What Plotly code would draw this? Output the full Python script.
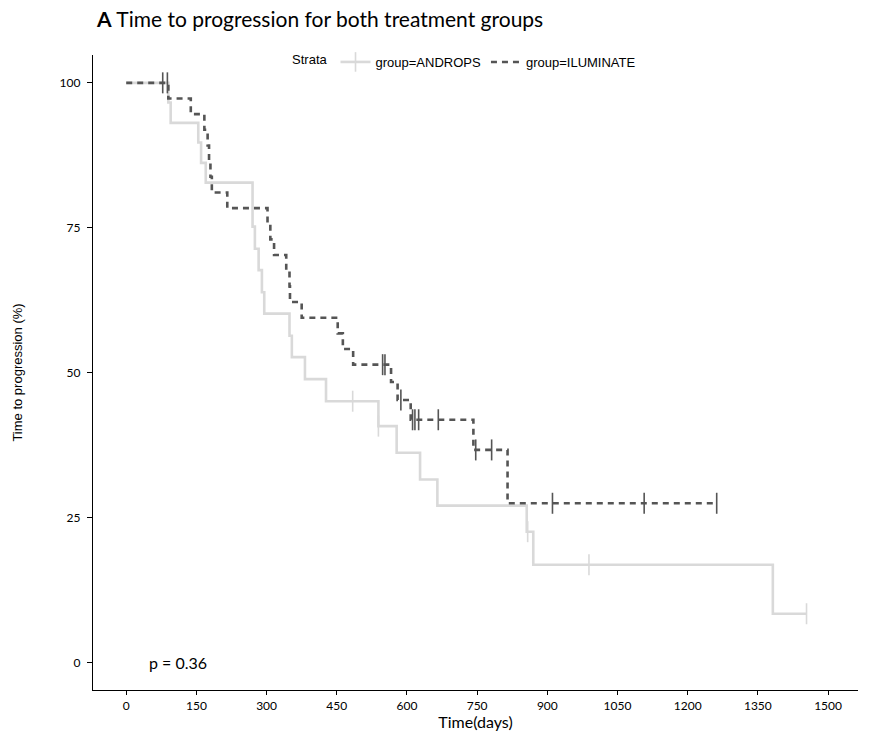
import plotly.graph_objects as go

# ---- data (Kaplan-Meier estimates, %) ----
androps_event_days = [90, 95, 154, 160, 170, 270, 275, 283, 290, 295, 349, 354,
                      382, 427, 539, 578, 628, 665, 856, 870, 1382]
androps_event_surv = [96.6, 93.1, 89.7, 86.2, 82.8, 75.2, 71.4, 67.7, 63.9, 60.2, 56.4, 52.7,
                      48.9, 45.1, 40.8, 36.2, 31.6, 27.1, 22.6, 16.9, 8.45]
androps_censor_days = [484, 539, 858, 989, 1454]

iluminate_event_days = [90, 138, 167, 174, 177, 180, 183, 216, 302, 308, 316, 342,
                        349, 350, 375, 452, 463, 485, 566, 580, 608, 742, 815]
iluminate_event_surv = [97.3, 94.6, 91.9, 89.2, 86.5, 83.8, 81.1, 78.4, 75.7, 73.0, 70.3, 67.6,
                        64.9, 62.2, 59.5, 56.8, 54.1, 51.4, 48.4, 45.3, 41.9, 36.7, 27.5]
iluminate_censor_days = [78, 88, 548, 553, 587, 612, 617, 625, 667, 747, 781, 911, 1107, 1262]

x_ticks = [0, 150, 300, 450, 600, 750, 900, 1050, 1200, 1350, 1500]
y_ticks = [0, 25, 50, 75, 100]
p_value_text = "p = 0.36"
title_bold = "A"
title_rest = " Time to progression for both treatment groups"

ANDROPS_COLOR = "#d9d9d9"
ILUMINATE_COLOR = "#555555"


def surv_at(t, days, surv):
    s = 100.0
    for d, v in zip(days, surv):
        if d <= t:
            s = v
    return s


def step_xy(days, surv, censor):
    end = max(censor + days)
    xs = [0] + list(days) + [end]
    ys = [100] + list(surv) + [surv_at(end, days, surv)]
    return xs, ys


fig = go.Figure()

groups = [
    ("group=ANDROPS", androps_event_days, androps_event_surv, androps_censor_days,
     ANDROPS_COLOR, "solid", True),
    ("group=ILUMINATE", iluminate_event_days, iluminate_event_surv, iluminate_censor_days,
     ILUMINATE_COLOR, "6px,5px", False),
]

for name, days, surv, cens, color, dash, legend_marker in groups:
    xs, ys = step_xy(days, surv, cens)
    fig.add_trace(go.Scatter(
        x=xs, y=ys, mode="lines", name=name, legendgroup=name,
        line=dict(color=color, width=2.6, dash=dash, shape="hv"),
        showlegend=False,
    ))
    fig.add_trace(go.Scatter(
        x=cens, y=[surv_at(c, days, surv) for c in cens], mode="markers",
        legendgroup=name, showlegend=False, name=name,
        marker=dict(symbol="line-ns", size=15, line=dict(color=color, width=1.6)),
    ))
    # legend entry
    fig.add_trace(go.Scatter(
        x=[None], y=[None], mode="lines+markers" if legend_marker else "lines",
        name=name, legendgroup=name, showlegend=True,
        line=dict(color=color, width=2.6, dash=dash),
        marker=dict(symbol="line-ns", size=14, line=dict(color=color, width=1.6)),
    ))

fig.add_annotation(x=45, y=0, xref="x", yref="y", text=p_value_text, showarrow=False,
                   xanchor="left", yanchor="middle",
                   font=dict(family="Lato", size=16, color="black"))

fig.update_layout(
    width=885, height=739,
    paper_bgcolor="white", plot_bgcolor="white",
    margin=dict(l=93, r=27, t=55, b=49),
    title=dict(text=f"<b>{title_bold}</b>{title_rest}", x=97 / 885, xanchor="left",
               xref="container", y=1 - 20 / 739, yref="container", yanchor="middle",
               font=dict(family="Lato", size=21, color="black")),
    legend=dict(orientation="h", x=0.487, xanchor="center", y=0.989, yanchor="middle",
                title=dict(text="Strata", side="left", font=dict(family="Liberation Sans", size=13)),
                font=dict(family="Liberation Sans", size=13, color="black"),
                itemwidth=30, bgcolor="rgba(0,0,0,0)"),
    xaxis=dict(range=[-71, 1564], tickvals=x_ticks, ticktext=[str(v) for v in x_ticks],
               automargin=False,
               showgrid=False, zeroline=False, showline=True, linecolor="black", linewidth=1.2,
               ticks="outside", ticklen=4, tickcolor="black", tickwidth=1,
               tickfont=dict(family="Lato", size=12, color="black"),
               title=dict(text="Time(days)", standoff=0, font=dict(family="Lato", size=16, color="black"))),
    yaxis=dict(range=[-4.7, 104.8], tickvals=y_ticks, ticktext=[str(v) for v in y_ticks],
               automargin=False,
               showgrid=False, zeroline=False, showline=True, linecolor="black", linewidth=1.2,
               ticks="outside", ticklen=5, tickcolor="black", tickwidth=1,
               ticklabelstandoff=4,
               tickfont=dict(family="Lato", size=12, color="black"),
               title=dict(text="Time to progression (%)", standoff=34,
                          font=dict(family="Liberation Sans", size=13, color="black"))),
)

# remove the browser's default 8px body margin so the figure sits at the page origin
fig.write_html("out.html", config={"displayModeBar": False},
               post_script="document.body.style.margin='0';")
